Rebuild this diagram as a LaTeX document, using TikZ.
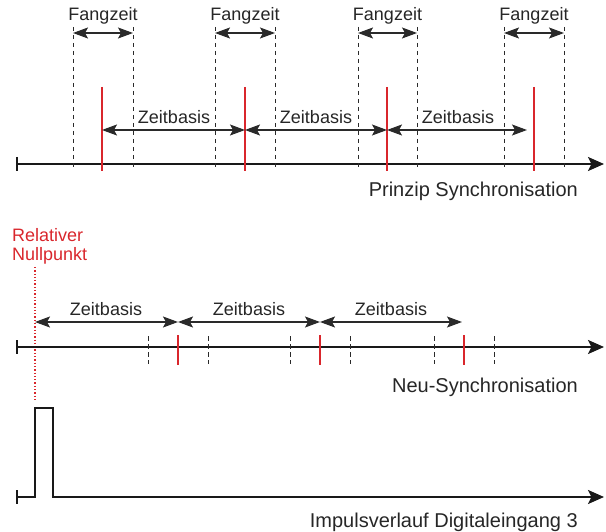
\documentclass[tikz,border=0pt]{standalone}
\usepackage{fontspec}
\setmainfont{Liberation Sans}
\usetikzlibrary{arrows.meta,calc}
\definecolor{myred}{HTML}{D9262C}
\definecolor{mygray}{HTML}{2A2A2A}
\tikzset{
  axisline/.style={line width=2.4pt, black!90},
  axisarrow/.style={axisline, -{Stealth[length=16pt,width=14pt,inset=3.5pt]}},
  tickstart/.style={line width=2pt, black!90},
  guide/.style={line width=1pt, mygray, dash pattern=on 4.5pt off 3.5pt},
  redmark/.style={line width=1.6pt, myred},
  span/.style={line width=1.2pt, mygray, {Stealth[length=15pt,width=11pt,inset=3pt]}-{Stealth[length=15pt,width=11pt,inset=3pt]}},
  small/.style={font=\fontsize{18}{20}\selectfont, inner sep=0pt, text=black!85},
  big/.style={font=\fontsize{20}{22}\selectfont, inner sep=0pt, text=black!85},
  redtext/.style={font=\fontsize{18}{19}\selectfont, inner sep=0pt, text=myred, align=left},
  nullline/.style={line width=1.3pt, myred, dash pattern=on 1.3pt off 2pt},
  pulse/.style={line width=2.4pt, black!90, line join=miter}
}
\begin{document}
\begin{tikzpicture}[x=1pt,y=-1pt]
\useasboundingbox (0,0) rectangle (606,532);

% ===== Top: Prinzip Synchronisation =====
\coordinate (a1s) at (17,164);
\coordinate (a1e) at (604,164);
\draw[tickstart] (17,157) -- (17,171);
\draw[axisarrow] (a1s) -- (a1e);

% dashed guides
\foreach \x [count=\i] in {73,133,215,275,358,417,504,564}{
  \coordinate (gt\i) at (\x,27);
  \coordinate (gb\i) at (\x,171);
  \draw[guide] (gt\i) -- (gb\i);
}
% Fangzeit arrows and labels
\foreach \a/\b/\k in {73/133/1,215/275/2,358/417/3,504/564/4}{
  \coordinate (fa\k) at (\a,33);
  \coordinate (fb\k) at (\b,33);
  \draw[span] (fa\k) -- (fb\k);
  \node[small, anchor=base] (fz\k) at ({(\a+\b)/2},21) {Fangzeit};
}
% red marks
\foreach \x [count=\i] in {102,245,387,534}{
  \coordinate (rt\i) at (\x,87);
  \coordinate (rb\i) at (\x,171);
  \draw[redmark] (rt\i) -- (rb\i);
}
% Zeitbasis arrows
\coordinate (z1a) at (102,130); \coordinate (z1b) at (245,130);
\coordinate (z2a) at (245,130); \coordinate (z2b) at (387,130);
\coordinate (z3a) at (387,130); \coordinate (z3b) at (527,130);
\draw[span] (z1a) -- (z1b);
\draw[span] (z2a) -- (z2b);
\draw[span] (z3a) -- (z3b);
\node[small, anchor=base] (zt1) at (174,124) {Zeitbasis};
\node[small, anchor=base] (zt2) at (316,124) {Zeitbasis};
\node[small, anchor=base] (zt3) at (458,124) {Zeitbasis};
\node[big, anchor=base east] (title1) at (578,197) {Prinzip Synchronisation};

% ===== Middle: Neu-Synchronisation =====
\node[redtext, anchor=base west] (rel) at (12,242) {Relativer};
\node[redtext, anchor=base west] (null) at (12,261) {Nullpunkt};
\coordinate (n0t) at (35,267);
\coordinate (n0b) at (35,400);
\draw[nullline] (n0t) -- (n0b);

\coordinate (a2s) at (17,347);
\coordinate (a2e) at (604,347);
\draw[tickstart] (17,340) -- (17,354);
\draw[axisarrow] (a2s) -- (a2e);

\foreach \x [count=\i] in {148,208,290,350,434,494}{
  \coordinate (mt\i) at (\x,336);
  \coordinate (mb\i) at (\x,364);
  \draw[guide, dash pattern=on 5pt off 3pt] (mt\i) -- (mb\i);
}
\foreach \x [count=\i] in {178,320,464}{
  \coordinate (mrt\i) at (\x,335);
  \coordinate (mrb\i) at (\x,365);
  \draw[redmark] (mrt\i) -- (mrb\i);
}
\coordinate (m1a) at (35,322);  \coordinate (m1b) at (178,322);
\coordinate (m2a) at (178,322); \coordinate (m2b) at (320,322);
\coordinate (m3a) at (320,322); \coordinate (m3b) at (462,322);
\draw[span] (m1a) -- (m1b);
\draw[span] (m2a) -- (m2b);
\draw[span] (m3a) -- (m3b);
\node[small, anchor=base] (mz1) at (106,316) {Zeitbasis};
\node[small, anchor=base] (mz2) at (249,316) {Zeitbasis};
\node[small, anchor=base] (mz3) at (391,316) {Zeitbasis};
\node[big, anchor=base east] (title2) at (578,392) {Neu-Synchronisation};

% ===== Bottom: Impulsverlauf =====
\coordinate (p0) at (17,497);
\coordinate (p1) at (35,497);
\coordinate (p2) at (35,408);
\coordinate (p3) at (53,408);
\coordinate (p4) at (53,497);
\coordinate (p5) at (604,497);
\draw[tickstart] (17,490) -- (17,504);
\draw[pulse] (p0) -- (p1) -- (p2) -- (p3) -- (p4) -- ++(10,0);
\draw[axisarrow] ($(p4)+(-1.2,0)$) -- (p5);
\node[big, anchor=base east] (title3) at (578,527) {Impulsverlauf Digitaleingang 3};
\end{tikzpicture}
\end{document}
